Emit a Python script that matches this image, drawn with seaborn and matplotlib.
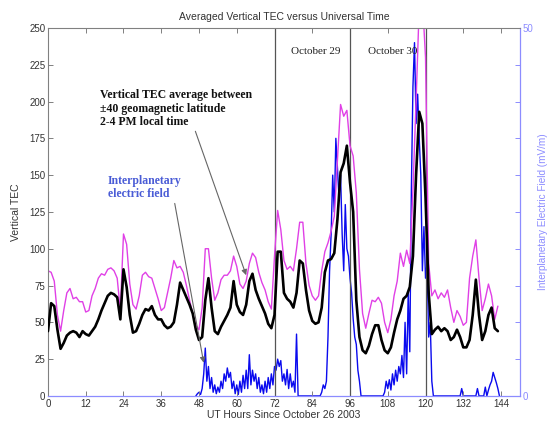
import numpy as np
import pandas as pd
import matplotlib
matplotlib.use("Agg")
import matplotlib.pyplot as plt
import seaborn as sns

# ---------------- data ----------------
tec_hours = list(range(0, 144))
tec_avg = [
    44, 63, 61, 45, 32, 36, 41, 43, 44, 43, 40, 44,
    42, 41, 44, 47, 52, 58, 63, 68, 70, 69, 67, 52,
    86, 74, 55, 43, 44, 49, 55, 59, 58, 61, 55, 52,
    52, 48, 46, 47, 50, 62, 77, 72, 67, 62, 56, 45,
    38, 40, 65, 80, 60, 44, 42, 47, 51, 55, 60, 78,
    62, 57, 55, 62, 78, 83, 72, 66, 61, 56, 49, 46,
    55, 98, 98, 70, 66, 64, 60, 70, 92, 90, 72, 58,
    51, 49, 50, 60, 84, 92, 93, 97, 120, 152, 158, 170,
    145, 125, 65, 40, 31, 29, 34, 42, 48, 48, 38, 31,
    29, 33, 43, 52, 58, 66, 68, 74, 95, 150, 193, 185,
    135, 70, 42, 45, 47, 44, 46, 44, 38, 40, 45, 40,
    33, 33, 38, 55, 79, 55, 38, 44, 55, 60, 46, 44,
]
tec_upper = [
    85, 84, 78, 55, 44, 58, 70, 73, 66, 67, 64, 64,
    57, 58, 68, 73, 80, 83, 82, 86, 87, 85, 80, 58,
    110, 103, 76, 62, 59, 68, 82, 84, 81, 80, 73, 66,
    58, 60, 70, 80, 92, 87, 88, 84, 75, 65, 56, 48,
    45, 60, 100, 100, 80, 65, 70, 79, 82, 82, 85, 95,
    88, 76, 73, 78, 90, 97, 94, 84, 77, 72, 64, 59,
    95, 126, 113, 92, 86, 88, 85, 100, 118, 118, 90, 75,
    68, 65, 68, 85, 98, 104, 112, 122, 160, 198, 190, 194,
    170, 163, 138, 86, 56, 46, 56, 65, 64, 67, 63, 50,
    43, 52, 68, 78, 97, 88, 99, 90, 140, 200, 265, 270,
    230, 90, 68, 72, 66, 70, 67, 72, 60, 50, 58, 54,
    48, 50, 80, 95, 106, 80, 58, 66, 76, 68, 52, 61,
]
ief_hours = list(np.arange(47.0, 143.51, 0.5))
ief_values = [
    0, 0.3, 0.5, 0.2, 1.0, 3.0, 6.5, 2.0, 4.0, 1.0,
    2.5, 0.5, 1.5, 0.3, 1.2, 0.5, 2.0, 1.0, 3.0, 2.0,
    3.8, 2.5, 3.2, 1.0, 2.0, 0.3, 1.5, 0.2, 2.0, 0.5,
    2.8, 1.0, 3.5, 1.0, 5.6, 1.5, 3.5, 2.0, 3.0, 1.0,
    2.5, 0.5, 1.5, 0.3, 2.0, 0.5, 2.5, 1.0, 3.0, 1.5,
    4.0, 3.5, 5.0, 4.0, 4.8, 2.0, 3.0, 1.5, 3.6, 1.0,
    3.0, 1.2, 2.0, 0.5, 8.4, 0, 0, 0, 0, 0,
    0, 0, 0, 0, 0, 0, 0, 0, 0, 0,
    0.5, 1.5, 1.0, 2.0, 8.0, 17.0, 22.0, 30.0, 25.0, 35.0,
    31.0, 27.0, 30.0, 22.0, 17.0, 26.0, 20.0, 19.0, 16.0, 14.0,
    10.5, 8.0, 7.0, 3.5, 2.0, 0, 0, 0, 0, 0,
    0, 0, 0, 0, 0, 0, 0, 0, 0, 0,
    0.5, 2.0, 1.0, 2.2, 0.8, 3.0, 1.5, 3.5, 2.0, 4.0,
    3.0, 5.5, 2.5, 10.0, 3.0, 14.0, 6.0, 28.0, 42.0, 48.0,
    37.0, 41.0, 35.0, 30.0, 17.0, 23.0, 16.0, 18.0, 8.0, 10.0,
    2.0, 0, 0, 0, 0, 0, 0, 0, 0, 0,
    0, 0, 0, 0, 0, 0, 0, 0, 0, 1.0,
    0, 0, 0, 0, 0, 0, 0, 0, 0, 1.0,
    0, 0, 0, 0, 1.2, 0, 0.8, 1.5, 2.0, 3.2,
    2.5, 1.8, 1.0, 0,
]
day_boundaries = [72, 96, 120]
x_ticks = list(range(0, 145, 12))
y_ticks = list(range(0, 251, 25))

tec_df = pd.DataFrame({"hour": tec_hours, "avg": tec_avg, "upper": tec_upper})
ief_df = pd.DataFrame({"hour": ief_hours, "ief": ief_values})

# ---------------- style ----------------
sns.set_style("white")
plt.rcParams["font.family"] = ["Liberation Sans", "DejaVu Sans"]

axis_gray = "#808080"
lav = "#8c8cff"
magenta = "#e040e6"
blue = "#0a0aee"

fig = plt.figure(figsize=(5.49, 4.23), dpi=100)
ax = fig.add_axes([0.0874, 0.064, 0.8596, 0.870])
ax2 = ax.twinx()

# IEF on right axis
sns.lineplot(data=ief_df, x="hour", y="ief", ax=ax2, color=blue, lw=1.0,
             estimator=None)
# TEC curves on left axis
for xb in day_boundaries:
    ax.axvline(xb, color="#555555", lw=0.9, zorder=1)
sns.lineplot(data=tec_df, x="hour", y="upper", ax=ax, color=magenta, lw=1.0,
             estimator=None, zorder=2)
sns.lineplot(data=tec_df, x="hour", y="avg", ax=ax, color="black", lw=1.9,
             estimator=None, zorder=3)

ax.set_zorder(ax2.get_zorder() + 1)
ax.patch.set_visible(False)

ax.set_xlim(0, 150)
ax.set_ylim(0, 250)
ax2.set_ylim(0, 50)

ax.set_xticks(x_ticks)
ax.set_yticks(y_ticks)
ax2.set_yticks(list(range(0, 51, 5)))
ax2.set_yticklabels(["0"] + [""] * 9 + ["50"])

ax.tick_params(axis="both", direction="in", length=3.5, width=0.7,
               color=axis_gray, labelsize=7, labelcolor="#333333", pad=2,
               top=True, bottom=True, left=True, right=False)
ax2.tick_params(axis="y", direction="in", length=3.5, width=0.7,
                color=lav, labelsize=7, labelcolor=lav, pad=2)

for s in ["left", "top"]:
    ax.spines[s].set_color(axis_gray)
    ax.spines[s].set_linewidth(0.8)
ax.spines["bottom"].set_color(lav)
ax.spines["bottom"].set_linewidth(0.9)
ax.spines["right"].set_visible(False)
ax2.spines["right"].set_color(lav)
ax2.spines["right"].set_linewidth(0.9)
for s in ["left", "top", "bottom"]:
    ax2.spines[s].set_visible(False)

ax.set_xlabel("UT Hours Since October 26 2003", fontsize=7.5, color="#333333",
              labelpad=1)
ax.set_ylabel("Vertical TEC", fontsize=7.5, color="#333333", labelpad=6)
ax2.set_ylabel("Interplanetary Electric Field (mV/m)", fontsize=7.2,
               color=lav)
ax2.yaxis.set_label_coords(1.038, 0.5)
ax.set_title("Averaged Vertical TEC versus Universal Time", fontsize=7.5,
             color="#333333", pad=6)

serif = ["Liberation Serif", "DejaVu Serif"]
ax.text(85, 234, "October 29", fontsize=8, family=serif, color="#222222",
        ha="center", va="center")
ax.text(109.5, 234, "October 30", fontsize=8, family=serif, color="#222222",
        ha="center", va="center")

ax.annotate("Vertical TEC average between\n\u00b140 geomagnetic latitude\n2-4 PM local time",
            xy=(63, 82), xytext=(16.5, 182), textcoords="data",
            fontsize=8.5, fontweight="bold", family=serif, color="#111111",
            ha="left", va="bottom", linespacing=1.15,
            arrowprops=dict(arrowstyle="-|>", color="#666666", lw=0.8,
                            mutation_scale=8, shrinkA=0, shrinkB=0,
                            relpos=(0.62, 0.0)))
ax.annotate("Interplanetary\nelectric field",
            xy=(49.5, 22.5), xytext=(19, 133), textcoords="data",
            fontsize=8.5, fontweight="bold", family=serif, color="#4a5cd6",
            ha="left", va="bottom", linespacing=1.15,
            arrowprops=dict(arrowstyle="-|>", color="#666666", lw=0.8,
                            mutation_scale=8, shrinkA=0, shrinkB=0,
                            relpos=(0.9, 0.0)))

fig.savefig("out.png", dpi=100)
